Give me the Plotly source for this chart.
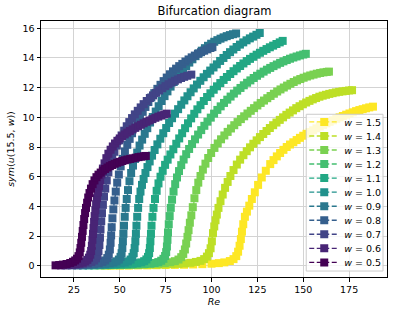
import plotly.graph_objects as go

# ---------------- data ----------------
w_labels = ["1.5", "1.4", "1.3", "1.2", "1.1", "1.0", "0.9", "0.8", "0.7", "0.6", "0.5"]

re_w15 = [45, 50, 55, 60, 65, 70, 75, 80, 85, 90, 95, 100, 104, 107, 110, 112, 113.5, 114.5, 115.3, 116,
          116.6, 117.3, 118.2, 119.3, 120.6, 122, 123.6, 125.4, 127.4, 129.6, 132, 133.8, 135.6, 137.4, 139.2,
          141, 142.8, 144.6, 146.4, 148.2, 150, 151.8, 153.6, 155.4, 157.2, 159, 160.8, 162.6, 164.4, 166.2,
          168, 169.8, 171.6, 173.4, 175.2, 177, 178.8, 180.6, 182.4, 184.2, 186, 188]
sym_w15 = [0.02, 0.02, 0.02, 0.03, 0.03, 0.04, 0.05, 0.06, 0.07, 0.09, 0.11, 0.14, 0.18, 0.23, 0.32, 0.45,
           0.65, 0.95, 1.35, 1.8, 2.3, 2.8, 3.3, 3.65, 4.05, 4.5, 4.95, 5.45, 5.95, 6.4, 6.85, 7.12, 7.37, 7.6,
           7.81, 8.0, 8.17, 8.32, 8.47, 8.62, 8.76, 8.89, 9.01, 9.13, 9.26, 9.38, 9.49, 9.6, 9.7, 9.8, 9.9, 10.0,
           10.09, 10.18, 10.26, 10.34, 10.42, 10.49, 10.55, 10.61, 10.67, 10.72]

re_w14 = [42, 46, 50, 54, 58, 62, 66, 70, 74, 78, 82, 85.5, 88.5, 91.5, 94, 96, 97.5, 98.6, 99.5, 100.2,
          100.8, 101.5, 102.2, 102.9, 103.8, 104.9, 106.1, 107.4, 108.8, 110.3, 112, 113.8, 115.6, 117.4, 119.2,
          121, 122.8, 124.6, 126.4, 128.2, 130, 131.8, 133.6, 135.4, 137.2, 139, 140.8, 142.6, 144.4, 146.2,
          148, 149.8, 151.6, 153.4, 155.2, 157, 158.8, 160.6, 162.4, 164.2, 166, 167.8, 169.6, 171.4, 173.2,
          175, 176.6]
sym_w14 = [0.02, 0.03, 0.03, 0.04, 0.05, 0.06, 0.07, 0.08, 0.09, 0.11, 0.13, 0.16, 0.2, 0.26, 0.33, 0.45,
           0.62, 0.85, 1.18, 1.65, 2.2, 2.65, 3.07, 3.45, 3.9, 4.35, 4.8, 5.25, 5.65, 6.05, 6.45, 6.82, 7.15, 7.45,
           7.72, 7.98, 8.22, 8.45, 8.67, 8.88, 9.08, 9.28, 9.47, 9.65, 9.83, 10.0, 10.17, 10.32, 10.47, 10.62,
           10.75, 10.88, 11.0, 11.11, 11.21, 11.3, 11.39, 11.46, 11.52, 11.58, 11.63, 11.68, 11.72, 11.75, 11.78,
           11.81, 11.83]

re_w13 = [39, 43, 47, 51, 55, 59, 63, 67, 71, 74.5, 77.5, 80, 82, 83.5, 84.6, 85.5, 86.2, 86.9, 87.5, 88.2,
          89, 89.8, 90.7, 91.7, 92.8, 94, 95.3, 96.7, 98.2, 99.8, 101.6, 103.4, 105.2, 107, 108.8, 110.6, 112.4,
          114.2, 116, 117.8, 119.6, 121.4, 123.2, 125, 126.8, 128.6, 130.4, 132.2, 134, 135.8, 137.6, 139.4,
          141.2, 143, 144.8, 146.6, 148.4, 150.2, 152, 153.8, 155.6, 157.4, 159.2, 161, 162.8, 164]
sym_w13 = [0.03, 0.04, 0.05, 0.06, 0.07, 0.08, 0.1, 0.12, 0.15, 0.19, 0.24, 0.31, 0.42, 0.58, 0.8, 1.1, 1.5,
           1.95, 2.4, 2.9, 3.4, 3.95, 4.55, 5.1, 5.6, 6.05, 6.48, 6.88, 7.26, 7.6, 7.94, 8.24, 8.52, 8.78, 9.02,
           9.25, 9.47, 9.68, 9.88, 10.07, 10.26, 10.44, 10.62, 10.8, 10.97, 11.13, 11.29, 11.44, 11.59, 11.74,
           11.88, 12.01, 12.14, 12.26, 12.38, 12.49, 12.58, 12.67, 12.75, 12.82, 12.88, 12.94, 12.99, 13.03,
           13.06, 13.08]

re_w12 = [36, 40, 44, 48, 52, 56, 60, 63.5, 66.5, 69, 71, 72.6, 73.8, 74.7, 75.3, 75.7, 76.0, 76.3, 76.7, 77.2,
          77.8, 78.5, 79.3, 80.2, 81.2, 82.3, 83.5, 84.8, 86.2, 87.8, 89.4, 91, 92.7, 94.4, 96.1, 97.8, 99.6,
          101.4, 103.2, 105, 106.8, 108.6, 110.4, 112.2, 114, 115.8, 117.6, 119.4, 121.2, 123, 124.8, 126.6,
          128.4, 130.2, 132, 133.8, 135.6, 137.4, 139.2, 141, 142.8, 144.6, 146.4, 148.2, 150, 151.4]
sym_w12 = [0.03, 0.04, 0.05, 0.06, 0.07, 0.08, 0.1, 0.12, 0.15, 0.19, 0.25, 0.34, 0.47, 0.66, 0.92, 1.3, 1.75,
           2.25, 2.8, 3.35, 3.9, 4.45, 5.0, 5.5, 5.95, 6.38, 6.78, 7.16, 7.52, 7.87, 8.2, 8.52, 8.84, 9.14, 9.43,
           9.71, 9.98, 10.25, 10.5, 10.74, 10.97, 11.19, 11.4, 11.6, 11.8, 11.98, 12.16, 12.33, 12.49, 12.65,
           12.8, 12.94, 13.08, 13.21, 13.33, 13.45, 13.56, 13.67, 13.77, 13.86, 13.95, 14.03, 14.1, 14.17, 14.23,
           14.28]

re_w11 = [33, 36.5, 40, 43.5, 47, 50.5, 54, 57, 59.5, 61.7, 63.3, 64.5, 65.4, 66, 66.4, 66.7, 67.0, 67.3, 67.8,
          68.4, 69.2, 70.1, 71.1, 72.2, 73.4, 74.7, 76.1, 77.6, 79.2, 80.8, 82.4, 84, 85.6, 87.2, 88.9, 90.6,
          92.3, 94, 95.8, 97.6, 99.4, 101.2, 103, 104.8, 106.6, 108.4, 110.2, 112, 113.8, 115.6, 117.4, 119.2,
          121, 122.8, 124.6, 126.4, 128.2, 130, 131.8, 133.6, 135.4, 137.2, 138.8]
sym_w11 = [0.03, 0.04, 0.05, 0.06, 0.07, 0.09, 0.11, 0.14, 0.18, 0.23, 0.31, 0.43, 0.6, 0.85, 1.2, 1.65, 2.15,
           2.7, 3.3, 3.9, 4.5, 5.05, 5.55, 6.0, 6.4, 6.8, 7.15, 7.5, 7.85, 8.22, 8.58, 8.93, 9.27, 9.6, 9.93,
           10.24, 10.54, 10.82, 11.1, 11.37, 11.62, 11.86, 12.09, 12.31, 12.52, 12.72, 12.92, 13.11, 13.29,
           13.46, 13.63, 13.79, 13.94, 14.08, 14.22, 14.35, 14.48, 14.6, 14.72, 14.83, 14.94, 15.05, 15.15]

re_w10 = [30, 33, 36, 39, 42, 45, 48, 50.5, 52.7, 54.5, 55.9, 56.9, 57.6, 58.1, 58.5, 58.8, 59.1, 59.5, 60.0,
          60.6, 61.3, 62.1, 63.0, 64.0, 65.1, 66.3, 67.6, 69.0, 70.5, 72.1, 73.7, 75.3, 76.9, 78.5, 80.1, 81.8,
          83.5, 85.2, 86.9, 88.6, 90.3, 92.1, 93.9, 95.7, 97.5, 99.3, 101.1, 102.9, 104.7, 106.5, 108.3, 110.1,
          111.9, 113.7, 115.5, 117.3, 119.1, 120.9, 122.7, 124.5, 126.3]
sym_w10 = [0.03, 0.04, 0.05, 0.06, 0.08, 0.1, 0.13, 0.17, 0.22, 0.3, 0.42, 0.6, 0.85, 1.2, 1.65, 2.15, 2.7,
           3.3, 3.9, 4.5, 5.0, 5.45, 5.85, 6.25, 6.65, 7.03, 7.42, 7.8, 8.18, 8.56, 8.93, 9.28, 9.62, 9.94, 10.25,
           10.55, 10.85, 11.14, 11.42, 11.69, 11.95, 12.21, 12.46, 12.7, 12.93, 13.15, 13.36, 13.57, 13.8, 14.0,
           14.2, 14.39, 14.57, 14.74, 14.9, 15.05, 15.19, 15.32, 15.44, 15.56, 15.68]

re_w09 = [27, 30, 33, 36, 39, 42, 44.5, 46.5, 48.2, 49.5, 50.4, 51, 51.4, 51.7, 52.0, 52.3, 52.7, 53.2, 53.8,
          54.5, 55.3, 56.2, 57.2, 58.3, 59.5, 60.8, 62.2, 63.6, 65, 66.5, 68, 69.6, 71.2, 72.8, 74.4, 76, 77.7,
          79.4, 81.1, 82.8, 84.5, 86.2, 87.9, 89.6, 91.3, 93, 94.7, 96.4, 98.1, 99.8, 101.5, 103.2, 104.9, 106.6,
          108.3, 110, 111.7, 113.4]
sym_w09 = [0.03, 0.04, 0.05, 0.07, 0.1, 0.13, 0.17, 0.22, 0.3, 0.42, 0.6, 0.85, 1.2, 1.65, 2.15, 2.7, 3.3, 3.9,
           4.5, 5.1, 5.7, 6.25, 6.75, 7.2, 7.63, 8.1, 8.5, 8.89, 9.27, 9.65, 10.02, 10.39, 10.75, 11.1, 11.43,
           11.75, 12.07, 12.38, 12.67, 12.95, 13.21, 13.46, 13.69, 13.91, 14.12, 14.31, 14.49, 14.66, 14.82,
           14.96, 15.09, 15.2, 15.3, 15.39, 15.47, 15.54, 15.6, 15.65]

re_w08 = [24, 27, 30, 33, 36, 38.5, 40.5, 42, 43.2, 44, 44.6, 45.0, 45.3, 45.6, 46.0, 46.5, 47.1, 47.8, 48.6,
          49.5, 50.5, 51.6, 52.8, 54.1, 55.4, 56.7, 58.1, 59.5, 61, 62.5, 64, 65.6, 67.2, 68.8, 70.5, 72.2, 73.9,
          75.6, 77.3, 79, 80.7, 82.4, 84.1, 85.8, 87.5, 89.2, 90.9, 92.6, 94.3, 96, 97.7, 99.4, 100.5]
sym_w08 = [0.03, 0.04, 0.06, 0.09, 0.13, 0.18, 0.26, 0.36, 0.52, 0.75, 1.1, 1.55, 2.05, 2.6, 3.2, 3.8, 4.4, 5.0,
           5.6, 6.15, 6.7, 7.2, 7.7, 8.15, 8.55, 8.93, 9.3, 9.66, 10.02, 10.37, 10.7, 11.03, 11.34, 11.63, 11.92,
           12.19, 12.44, 12.68, 12.9, 13.1, 13.28, 13.45, 13.6, 13.76, 13.9, 14.04, 14.16, 14.28, 14.39, 14.49,
           14.58, 14.67, 14.73]

re_w07 = [21, 24, 27, 30, 32.5, 34.5, 36, 37, 37.8, 38.4, 38.9, 39.2, 39.5, 39.9, 40.3, 40.8, 41.4, 42.1, 42.9,
          43.8, 44.8, 45.9, 47.1, 48.4, 49.7, 51, 52.4, 53.8, 55.2, 56.7, 58.2, 59.8, 61.4, 63, 64.7, 66.4, 68.1,
          69.8, 71.5, 73.2, 74.9, 76.6, 78.3, 80, 81.7, 83.4, 85.1, 86.8, 89]
sym_w07 = [0.03, 0.05, 0.08, 0.12, 0.18, 0.26, 0.36, 0.5, 0.7, 0.98, 1.4, 1.9, 2.45, 3.0, 3.55, 4.1, 4.65, 5.2,
           5.75, 6.3, 6.8, 7.25, 7.68, 8.1, 8.45, 8.78, 9.1, 9.4, 9.68, 9.95, 10.2, 10.44, 10.67, 10.89, 11.1,
           11.3, 11.48, 11.65, 11.81, 11.96, 12.1, 12.23, 12.35, 12.46, 12.56, 12.65, 12.73, 12.8, 12.88]

re_w06 = [18, 20, 22, 24, 26, 28, 29.8, 31.2, 32.3, 33.2, 33.9, 34.4, 34.8, 35.1, 35.4, 35.7, 36.0, 36.3, 36.7,
          37.1, 37.6, 38.1, 38.7, 39.3, 40.0, 40.8, 41.7, 42.7, 43.8, 45, 46.2, 47.4, 48.7, 50, 51.3, 52.7, 54.1,
          55.5, 57, 58.5, 60, 61.5, 63, 64.6, 66.2, 67.8, 69.4, 71, 72.6, 74.2, 75.6]
sym_w06 = [0.03, 0.04, 0.06, 0.08, 0.11, 0.15, 0.21, 0.29, 0.4, 0.55, 0.75, 1.0, 1.35, 1.75, 2.15, 2.55, 2.95,
           3.35, 3.75, 4.15, 4.55, 4.95, 5.35, 5.75, 6.15, 6.55, 6.9, 7.25, 7.55, 7.82, 8.04, 8.24, 8.42, 8.58,
           8.72, 8.85, 8.97, 9.08, 9.19, 9.3, 9.4, 9.5, 9.6, 9.7, 9.79, 9.88, 9.97, 10.05, 10.12, 10.19, 10.25]

re_w05 = [15, 17, 19, 21, 23, 24.5, 25.7, 26.7, 27.5, 28.2, 28.6, 29.0, 29.4, 29.8, 30.2, 30.6, 31.1, 31.6, 32.2,
          32.8, 33.5, 34.3, 35.2, 36.2, 37.3, 38.4, 39.6, 40.8, 42, 43.3, 44.6, 45.9, 47.2, 48.6, 50, 51.4, 52.8,
          54.2, 55.7, 57.2, 58.7, 60.2, 61.7, 63.2, 64.2]
sym_w05 = [0.03, 0.05, 0.08, 0.12, 0.19, 0.27, 0.36, 0.48, 0.65, 0.9, 1.2, 1.55, 1.95, 2.35, 2.75, 3.15, 3.55,
           3.9, 4.25, 4.6, 4.9, 5.2, 5.5, 5.75, 5.97, 6.14, 6.28, 6.41, 6.52, 6.62, 6.71, 6.79, 6.87, 6.94, 7.0,
           7.06, 7.11, 7.16, 7.2, 7.24, 7.28, 7.32, 7.35, 7.38, 7.4]

x_ticks = [25, 50, 75, 100, 125, 150, 175]
y_ticks = [0, 2, 4, 6, 8, 10, 12, 14, 16]

# ---------------- styling ----------------
colors = ["#fde725", "#bddf26", "#7ad151", "#44bf70", "#22a884", "#21918c",
          "#2a788e", "#355f8d", "#414487", "#482475", "#440154"]
series = [(re_w15, sym_w15), (re_w14, sym_w14), (re_w13, sym_w13), (re_w12, sym_w12),
          (re_w11, sym_w11), (re_w10, sym_w10), (re_w09, sym_w09), (re_w08, sym_w08),
          (re_w07, sym_w07), (re_w06, sym_w06), (re_w05, sym_w05)]

W, H = 398, 316
ML, MR, MT, MB = 41, 10, 21, 37
plot_h = H - MT - MB
plot_w = W - ML - MR
FONT = "DejaVu Sans"

fig = go.Figure()
legends = {}
for i, (lab, (xs, ys), col) in enumerate(zip(w_labels, series, colors)):
    lg = "legend" if i == 0 else f"legend{i + 1}"
    fig.add_trace(go.Scatter(
        x=xs, y=ys, mode="lines+markers", name=f"<i>w</i> = {lab}", legend=lg,
        line=dict(color=col, width=1.4, dash="5px,2.5px"),
        marker=dict(symbol="square", size=8, color=col, line=dict(width=0)),
    ))
    py = 122.7 + 14.16 * i  # pixel centre of legend row
    legends[lg] = dict(
        x=(305 - ML) / plot_w, y=(H - MB - py) / plot_h, xanchor="left", yanchor="middle",
        bgcolor="rgba(0,0,0,0)", borderwidth=0,
        font=dict(family=FONT, size=9.5, color="black"),
    )

# legend frame
fig.add_shape(type="rect", xref="paper", yref="paper", layer="above",
              x0=(307 - ML) / plot_w, x1=(384 - ML) / plot_w,
              y0=(H - MB - 273) / plot_h, y1=(H - MB - 115) / plot_h,
              fillcolor="rgba(255,255,255,0.8)", line=dict(color="#cccccc", width=1))

axis_common = dict(showline=True, linecolor="black", linewidth=1, mirror=True,
                   ticks="outside", ticklen=3.5, tickwidth=1, tickcolor="black",
                   showgrid=True, gridcolor="#d3d3d3", gridwidth=1, zeroline=False,
                   tickfont=dict(family=FONT, size=9.5, color="black"))

fig.update_layout(
    width=W, height=H, margin=dict(l=ML, r=MR, t=MT, b=MB),
    paper_bgcolor="white", plot_bgcolor="white",
    title=dict(text="Bifurcation diagram", x=(ML + plot_w / 2) / W, xanchor="center",
               y=1 - 11 / H, yanchor="middle", font=dict(family=FONT, size=11.5, color="black")),
    xaxis=dict(range=[7.07, 195.65], tickvals=x_ticks,
               title=dict(text="<i>Re</i>", standoff=4, font=dict(family=FONT, size=9.5, color="black")),
               **axis_common),
    yaxis=dict(range=[-0.755, 16.49], tickvals=y_ticks,
               title=dict(text="<i>sym</i>(<i>u</i>(15.5, <i>w</i>))", standoff=6,
                          font=dict(family=FONT, size=9.5, color="black")),
               **axis_common),
    showlegend=True,
    **legends,
)

# remove the browser's default 8px page margin so the figure sits at the window origin
fig.write_html("out.html", config={"displayModeBar": False},
               post_script="document.body.style.margin='0px';")
